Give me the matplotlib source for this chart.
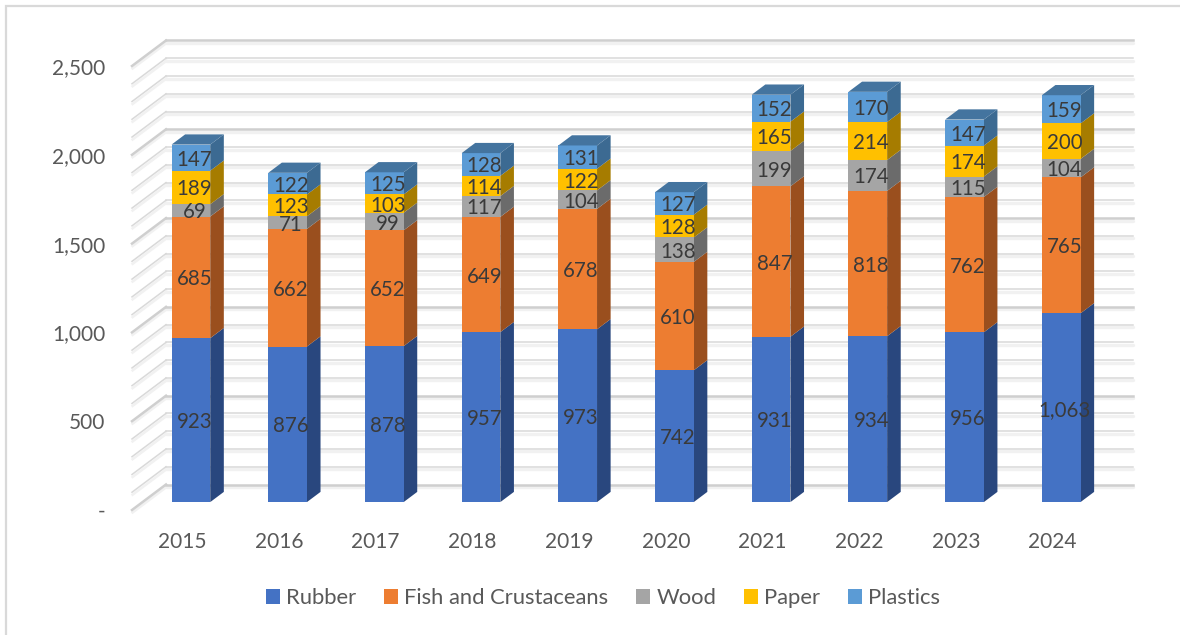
import matplotlib
matplotlib.use("Agg")
import matplotlib.pyplot as plt
from matplotlib.patches import Polygon, Patch, Rectangle
from matplotlib.transforms import ScaledTranslation

plt.rcParams['font.family'] = ['Lato', 'DejaVu Sans']

years = [2015, 2016, 2017, 2018, 2019, 2020, 2021, 2022, 2023, 2024]
rubber = [923, 876, 878, 957, 973, 742, 931, 934, 956, 1063]
fish = [685, 662, 652, 649, 678, 610, 847, 818, 762, 765]
wood = [69, 71, 99, 117, 104, 138, 199, 174, 115, 104]
paper = [189, 123, 103, 114, 122, 128, 165, 214, 174, 200]
plastics = [147, 122, 125, 128, 131, 127, 152, 170, 147, 159]

series = [rubber, fish, wood, paper, plastics]
names = ["Rubber", "Fish and Crustaceans", "Wood", "Paper", "Plastics"]
front_cols = ["#4472C4", "#ED7D31", "#A5A5A5", "#FFC000", "#5B9BD5"]
side_cols = ["#29477E", "#9A4F1E", "#6B6B6B", "#A67C00", "#3C6A92"]
top_col = "#44749F"

W, H = 1180, 635
fig = plt.figure(figsize=(W / 100, H / 100), dpi=100)

# frame of the original picture, runs off the right and bottom
fig.add_artist(Rectangle((6 / W, -0.02), 1.1, 1.02 - 5.5 / H, transform=fig.transFigure,
                         fill=False, edgecolor="#D9D9D9", linewidth=1.6))

# axes = front plane of the fake 3D box
ax = fig.add_axes([132 / W, (H - 510) / H, 967 / W, 444 / H])
ax.set_xlim(-0.5, 9.5)
ax.set_ylim(0, 2500)
ax.patch.set_alpha(0)
for s in ax.spines.values():
    s.set_visible(False)

# one unit of depth in data units
DX = 34 / 96.7
DY = 25.5 / 444 * 2500
BAR_W = 0.40
D_FRONT = 0.31
D_BACK = 0.71


def proj(x, v, d):
    return (x + d * DX, v + d * DY)


# walls
for v in range(0, 2501, 100):
    major = v % 500 == 0
    col = "#CFCFCF" if major else "#D9D9D9"
    lw = 1.8 if major else 1.1
    x0, y0 = proj(-0.5, v, 0)
    x1, y1 = proj(-0.5, v, 1)
    x2, y2 = proj(9.5, v, 1)
    # light band under every line
    ax.plot([x1, x2], [y1 - 14, y2 - 14], color="#F1F1F1", lw=2.4, clip_on=False, zorder=1,
            solid_capstyle="round")
    ax.plot([x0 + 0.006, x1 + 0.006], [y0 - 14, y1 - 14], color="#F1F1F1", lw=1.8, clip_on=False, zorder=1)
    ax.plot([x0, x1], [y0, y1], color=col, lw=lw, clip_on=False, zorder=2)
    ax.plot([x1, x2], [y1, y2], color=col, lw=lw, clip_on=False, zorder=2)

# stacked bars
for i, yr in enumerate(years):
    left = i - BAR_W / 2
    right = i + BAR_W / 2
    bottom = 0
    for k, vals in enumerate(series):
        top = bottom + vals[i]
        front = [proj(left, bottom, D_FRONT), proj(right, bottom, D_FRONT),
                 proj(right, top, D_FRONT), proj(left, top, D_FRONT)]
        side = [proj(right, bottom, D_FRONT), proj(right, bottom, D_BACK),
                proj(right, top, D_BACK), proj(right, top, D_FRONT)]
        ax.add_patch(Polygon(side, closed=True, facecolor=side_cols[k], edgecolor="none", zorder=3, clip_on=False))
        ax.add_patch(Polygon(front, closed=True, facecolor=front_cols[k], edgecolor="none", zorder=4, clip_on=False))
        if k == len(series) - 1:
            lid = [proj(left, top, D_FRONT), proj(right, top, D_FRONT),
                   proj(right, top, D_BACK), proj(left, top, D_BACK)]
            ax.add_patch(Polygon(lid, closed=True, facecolor=top_col, edgecolor="none", zorder=4, clip_on=False))
        lx, ly = proj(i, bottom + vals[i] / 2, D_FRONT)
        ax.annotate(f"{vals[i]:,}", (lx, ly), xytext=(2.5, 0), textcoords="offset points",
                    ha="center", va="center_baseline", fontsize=14.8, color="#3A3A3A", zorder=6,
                    annotation_clip=False)
        bottom = top

ax.set_xticks(range(len(years)))
ax.set_xticklabels([str(y) for y in years])
ax.set_yticks(range(0, 2501, 500))
ax.set_yticklabels(["-"] + [f"{v:,}" for v in range(500, 2501, 500)])
ax.tick_params(axis="x", length=0, pad=16, labelsize=15, labelcolor="#595959")
ax.tick_params(axis="y", length=0, pad=19, labelsize=15, labelcolor="#595959")

# year labels sit 2 px right of the category centre
for lab in ax.get_xticklabels():
    lab.set_transform(lab.get_transform() + ScaledTranslation(2 / 100, 0, fig.dpi_scale_trans))

handles = [Patch(facecolor=c, label=n) for c, n in zip(front_cols, names)]
fig.legend(handles=handles, ncol=5, frameon=False, loc="center", bbox_to_anchor=(603 / W, (H - 598) / H),
           fontsize=15.8, labelcolor="#595959", handlelength=0.64, handleheight=0.64,
           handletextpad=0.3, columnspacing=1.25, borderpad=0, borderaxespad=0)

fig.savefig("out.png", dpi=100)
